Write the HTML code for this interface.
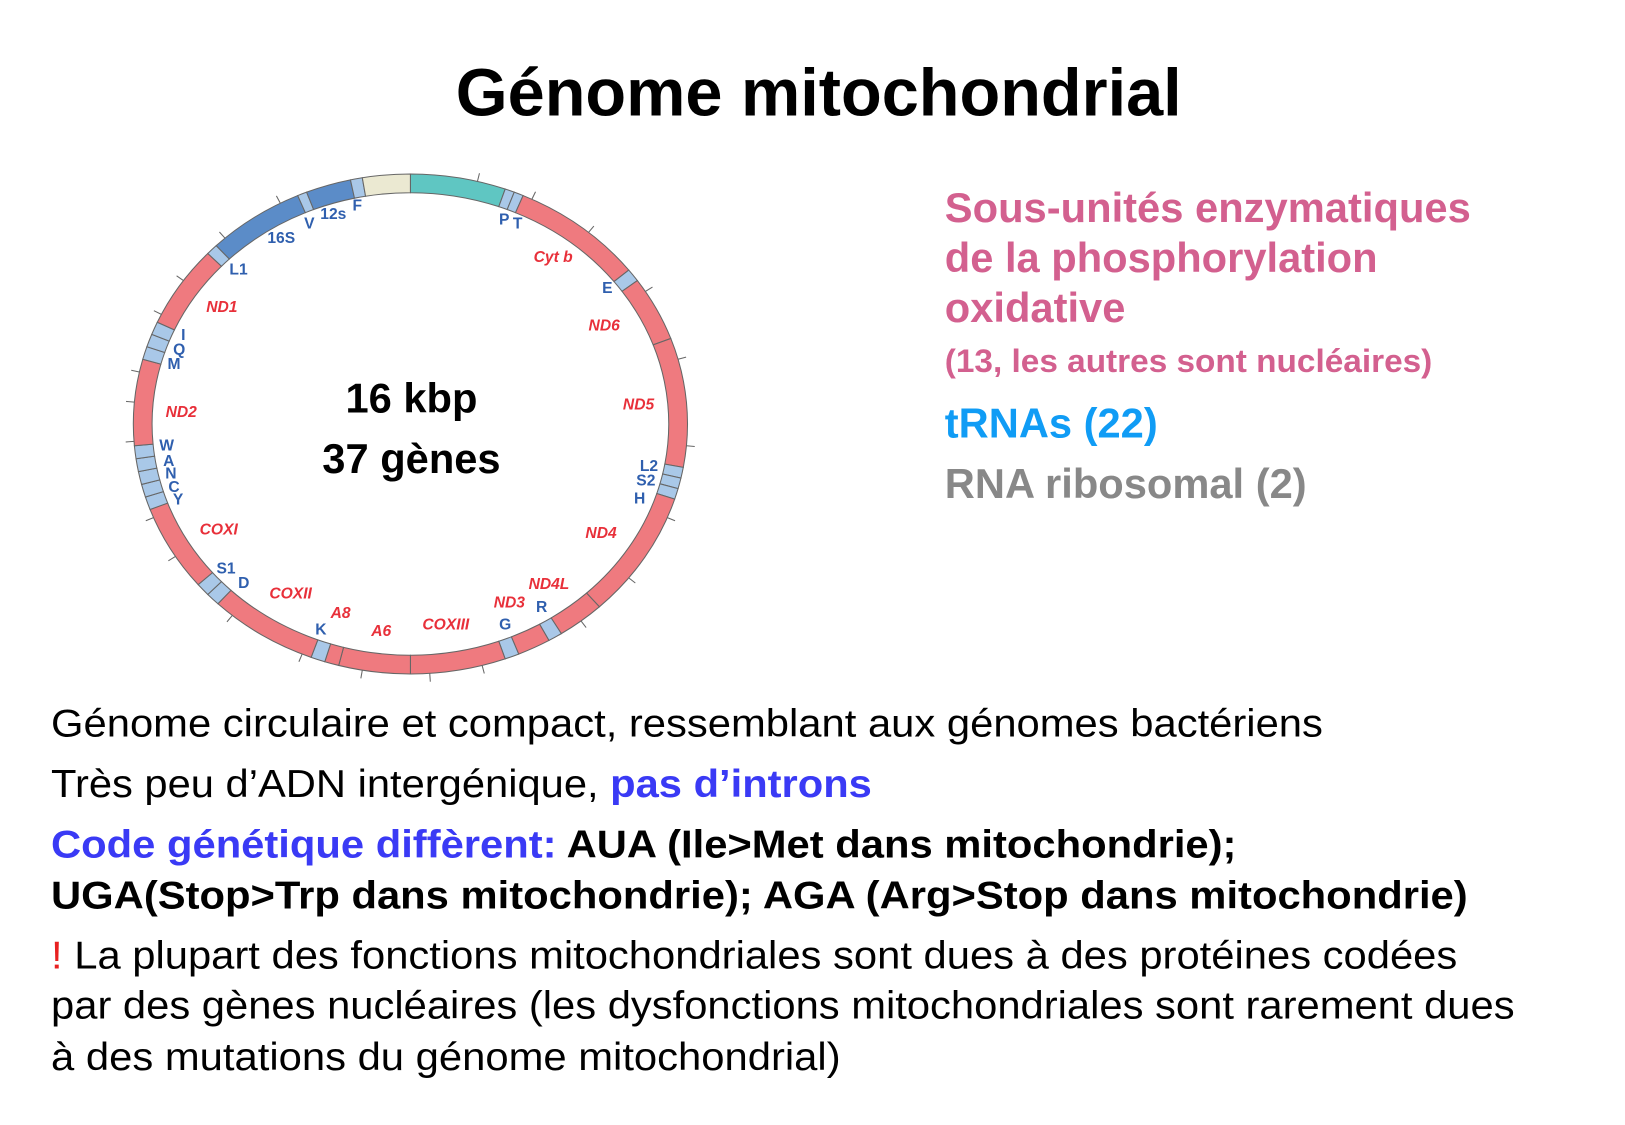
<!DOCTYPE html>
<html><head><meta charset="utf-8"><style>html,body{margin:0;padding:0;background:#fff}svg{display:block}</style></head>
<body>
<svg id="s" width="1625" height="1125" viewBox="0 0 1560 1080" xmlns="http://www.w3.org/2000/svg" font-family="Liberation Sans, Arial, sans-serif">
<rect width="1560" height="1080" fill="#fff"/>
<text x="786" y="111" font-size="64" font-weight="bold" text-anchor="middle">Génome mitochondrial</text>
<g id="ring"></g>
<g font-size="15" font-weight="bold" text-anchor="middle" dominant-baseline="central">
<g fill="#2f5fae">
<text x="320" y="206">12s</text><text x="343" y="198">F</text><text x="297" y="215">V</text><text x="270" y="229">16S</text><text x="229" y="259">L1</text>
<text x="484" y="211">P</text><text x="497" y="215">T</text><text x="583" y="277">E</text>
<text x="623" y="448">L2</text><text x="620" y="462">S2</text><text x="614" y="479">H</text>
<text x="520" y="583">R</text><text x="485" y="600">G</text><text x="308" y="605">K</text>
<text x="217" y="546">S1</text><text x="234" y="560">D</text>
<text x="171" y="480">Y</text><text x="167" y="468">C</text><text x="164" y="455">N</text><text x="162" y="443">A</text><text x="160" y="428">W</text>
<text x="167" y="350">M</text><text x="172" y="336">Q</text><text x="176" y="322">I</text>
</g>
<g fill="#e8303a" font-style="italic">
<text x="531" y="247">Cyt b</text><text x="580" y="313">ND6</text><text x="613" y="389">ND5</text><text x="577" y="512">ND4</text>
<text x="527" y="561">ND4L</text><text x="489" y="579">ND3</text><text x="428" y="600">COXIII</text><text x="366" y="606">A6</text>
<text x="327" y="589">A8</text><text x="279" y="570">COXII</text><text x="210" y="509">COXI</text><text x="174" y="396">ND2</text><text x="213" y="295">ND1</text>
</g>
</g>
<text x="395" y="396" font-size="40" font-weight="bold" text-anchor="middle">16 kbp</text>
<text x="395" y="454" font-size="40" font-weight="bold" text-anchor="middle">37 gènes</text>
<g font-weight="bold">
<text x="907" y="213" font-size="40" fill="#d3608f" textLength="505" lengthAdjust="spacingAndGlyphs">Sous-unités enzymatiques</text>
<text x="907" y="261" font-size="40" fill="#d3608f">de la phosphorylation</text>
<text x="907" y="309" font-size="40" fill="#d3608f">oxidative</text>
<text x="907" y="357" font-size="31" fill="#d3608f" textLength="468" lengthAdjust="spacingAndGlyphs">(13, les autres sont nucléaires)</text>
<text x="907" y="420" font-size="40" fill="#109cf5">tRNAs (22)</text>
<text x="907" y="478" font-size="40" fill="#888">RNA ribosomal (2)</text>
</g>
<g font-size="37">
<text x="49" y="707" textLength="1221" lengthAdjust="spacingAndGlyphs">Génome circulaire et compact, ressemblant aux génomes bactériens</text>
<text x="49" y="765" textLength="788" lengthAdjust="spacingAndGlyphs">Très peu d’ADN intergénique, <tspan fill="#3a3af5" font-weight="bold">pas d’introns</tspan></text>
<text x="49" y="823" font-weight="bold" textLength="1138" lengthAdjust="spacingAndGlyphs"><tspan fill="#3a3af5">Code génétique diffèrent:</tspan> AUA (Ile&gt;Met dans mitochondrie);</text>
<text x="49" y="872" font-weight="bold" textLength="1360" lengthAdjust="spacingAndGlyphs">UGA(Stop&gt;Trp dans mitochondrie); AGA (Arg&gt;Stop dans mitochondrie)</text>
<text x="49" y="930" textLength="1350" lengthAdjust="spacingAndGlyphs"><tspan fill="#e82020">!</tspan> La plupart des fonctions mitochondriales sont dues à des protéines codées</text>
<text x="49" y="978" textLength="1405" lengthAdjust="spacingAndGlyphs">par des gènes nucléaires (les dysfonctions mitochondriales sont rarement dues</text>
<text x="49" y="1027" textLength="758" lengthAdjust="spacingAndGlyphs">à des mutations du génome mitochondrial)</text>
</g>
</svg>
<script>
(function(){
var cx=394,cy=407,ox=266,oy=240,ix=248,iy=222;
var R='#ef7a7f',T='#a9c8e8',B='#5b8cc8',Y='#ebe9d2',G='#5fc6c2';
var segs=[[0,20,G],[20,22,T],[22,24,T],[24,52,R],[52,55,T],[55,70,R],[70,100,R],[100,102.5,T],[102.5,105,T],[105,107.5,T],[107.5,137,R],[137,147,R],[147,150,T],[150,157,R],[157,160,T],[160,180,R],[180,195,R],[195,198,R],[198,201,T],[201,224,R],[224,227,T],[227,230,T],[230,250,R],[250,253,T],[253,256,T],[256,259,T],[259,262,T],[262,265,T],[265,285,R],[285,288,T],[288,291,T],[291,294,T],[294,313,R],[313,315.5,T],[315.5,336,B],[336,338,T],[338,347.5,B],[347.5,350,T],[350,360,Y]];
function p(t,rx,ry){var a=t*Math.PI/180;return (cx+rx*Math.sin(a)).toFixed(2)+','+(cy-ry*Math.cos(a)).toFixed(2);}
var g=document.getElementById('ring'),h='';
segs.forEach(function(s){var l=(s[1]-s[0])>180?1:0;
h+='<path d="M'+p(s[0],ox,oy)+' A'+ox+','+oy+' 0 '+l+' 1 '+p(s[1],ox,oy)+' L'+p(s[1],ix,iy)+' A'+ix+','+iy+' 0 '+l+' 0 '+p(s[0],ix,iy)+'Z" fill="'+s[2]+'" stroke="#666" stroke-width="1"/>';});
var ticks=[14,26,40,58,75,95,112,128,142,165,176,190,203,220,238,248,266,275,282,296,305,318,332];
ticks.forEach(function(t){var a=p(t,ox,oy).split(','),b=p(t,ox+8,oy+8).split(',');h+='<line x1="'+a[0]+'" y1="'+a[1]+'" x2="'+b[0]+'" y2="'+b[1]+'" stroke="#666" stroke-width="1"/>';});
g.innerHTML=h;
})();
</script>
</body></html>
